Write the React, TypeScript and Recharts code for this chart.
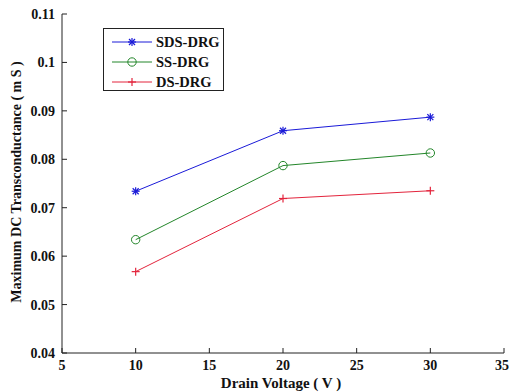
import React from "react";
import { LineChart, Line, XAxis, YAxis, Legend } from "recharts";

// drain voltage sweep (V) and peak DC transconductance (mS) per device
const voltage = [10, 20, 30];
const sdsDrg = [0.0734, 0.0859, 0.0887];
const ssDrg = [0.0634, 0.0787, 0.0813];
const dsDrg = [0.0568, 0.0719, 0.0735];

const xTicks = [5, 10, 15, 20, 25, 30, 35];
const yTicks = [0.04, 0.05, 0.06, 0.07, 0.08, 0.09, 0.1, 0.11];

const data = voltage.map((v, i) => ({ v, sds: sdsDrg[i], ss: ssDrg[i], ds: dsDrg[i] }));

const font = "'Liberation Serif', 'Times New Roman', serif";
const axisColor = "#222";
const BLUE = "#1a1ad8";
const GREEN = "#23862a";
const RED = "#e3243c";

type MarkerKind = "star" | "circle" | "plus";

const series: { key: string; name: string; color: string; marker: MarkerKind }[] = [
  { key: "sds", name: "SDS-DRG", color: BLUE, marker: "star" },
  { key: "ss", name: "SS-DRG", color: GREEN, marker: "circle" },
  { key: "ds", name: "DS-DRG", color: RED, marker: "plus" },
];

function Marker({ cx, cy, kind, color }: { cx: number; cy: number; kind: MarkerKind; color: string }) {
  if (cx == null || cy == null) return null;
  if (kind === "circle") {
    return <circle cx={cx} cy={cy} r={4.2} fill="none" stroke={color} strokeWidth={1} />;
  }
  const s = 4;
  if (kind === "plus") {
    return (
      <g stroke={color} strokeWidth={1.2}>
        <line x1={cx - s} y1={cy} x2={cx + s} y2={cy} />
        <line x1={cx} y1={cy - s} x2={cx} y2={cy + s} />
      </g>
    );
  }
  const d = s * 0.75;
  return (
    <g stroke={color} strokeWidth={1.2}>
      <line x1={cx - s} y1={cy} x2={cx + s} y2={cy} />
      <line x1={cx} y1={cy - s} x2={cx} y2={cy + s} />
      <line x1={cx - d} y1={cy - d} x2={cx + d} y2={cy + d} />
      <line x1={cx - d} y1={cy + d} x2={cx + d} y2={cy - d} />
    </g>
  );
}

function LegendBox() {
  return (
    <div
      style={{
        width: 121,
        height: 63,
        border: `1px solid ${axisColor}`,
        background: "#fff",
        boxSizing: "border-box",
      }}
    >
      <svg width={119} height={61}>
        {series.map((s, i) => {
          const y = 13 + i * 20;
          return (
            <g key={s.key}>
              <line x1={8} y1={y} x2={48} y2={y} stroke={s.color} strokeWidth={1} />
              <Marker cx={28} cy={y} kind={s.marker} color={s.color} />
              <text
                x={52}
                y={y + 5}
                fontFamily={font}
                fontWeight="bold"
                fontSize={14.5}
                fill="#111"
              >
                {s.name}
              </text>
            </g>
          );
        })}
      </svg>
    </div>
  );
}

const tickStyle = { fontFamily: font, fontWeight: "bold" as const, fontSize: 14, fill: "#111" };
const fmtY = (v: number) => String(Number(v.toFixed(2)));

export default function App() {
  return (
    <div style={{ position: "absolute", left: 0, top: 0, width: 509, height: 392, background: "#fff" }}>
      <LineChart width={509} height={392} data={data} margin={{ top: 14, right: 5, bottom: 9, left: 10 }}>
        <XAxis
          dataKey="v"
          type="number"
          domain={[5, 35]}
          ticks={xTicks}
          allowDataOverflow
          height={30}
          tickSize={-5}
          tickMargin={12}
          stroke={axisColor}
          tick={tickStyle}
          label={{
            content: () => (
              <text x={281} y={388} textAnchor="middle" fontFamily={font} fontWeight="bold" fontSize={15} fill="#111">
                Drain Voltage ( V )
              </text>
            ),
          }}
        />
        <XAxis
          xAxisId="top"
          orientation="top"
          type="number"
          domain={[5, 35]}
          ticks={xTicks}
          allowDataOverflow
          height={0}
          tickSize={-5}
          stroke={axisColor}
          tickFormatter={() => ""}
        />
        <YAxis
          type="number"
          domain={[0.04, 0.11]}
          ticks={yTicks}
          allowDataOverflow
          width={52}
          tickSize={-5}
          tickMargin={12}
          stroke={axisColor}
          tick={tickStyle}
          tickFormatter={fmtY}
          label={{
            content: () => (
              <text
                x={21}
                y={182}
                transform="rotate(-90 21 182)"
                textAnchor="middle"
                fontFamily={font}
                fontWeight="bold"
                fontSize={14}
                fill="#111"
              >
                Maximum DC Transconductance ( m S )
              </text>
            ),
          }}
        />
        <YAxis
          yAxisId="right"
          orientation="right"
          type="number"
          domain={[0.04, 0.11]}
          ticks={yTicks}
          allowDataOverflow
          width={0}
          tickSize={-5}
          stroke={axisColor}
          tickFormatter={() => ""}
        />
        <Legend
          layout="horizontal"
          verticalAlign="middle"
          content={() => <LegendBox />}
          wrapperStyle={{ position: "absolute", left: 103, top: 28, width: 121, height: 63 }}
        />
        {series.map((s) => (
          <Line
            key={s.key}
            dataKey={s.key}
            name={s.name}
            type="linear"
            stroke={s.color}
            strokeWidth={1}
            isAnimationActive={false}
            dot={(p: any) => <Marker key={`${s.key}-${p.index}`} cx={p.cx} cy={p.cy} kind={s.marker} color={s.color} />}
            activeDot={false}
          />
        ))}
      </LineChart>
    </div>
  );
}
